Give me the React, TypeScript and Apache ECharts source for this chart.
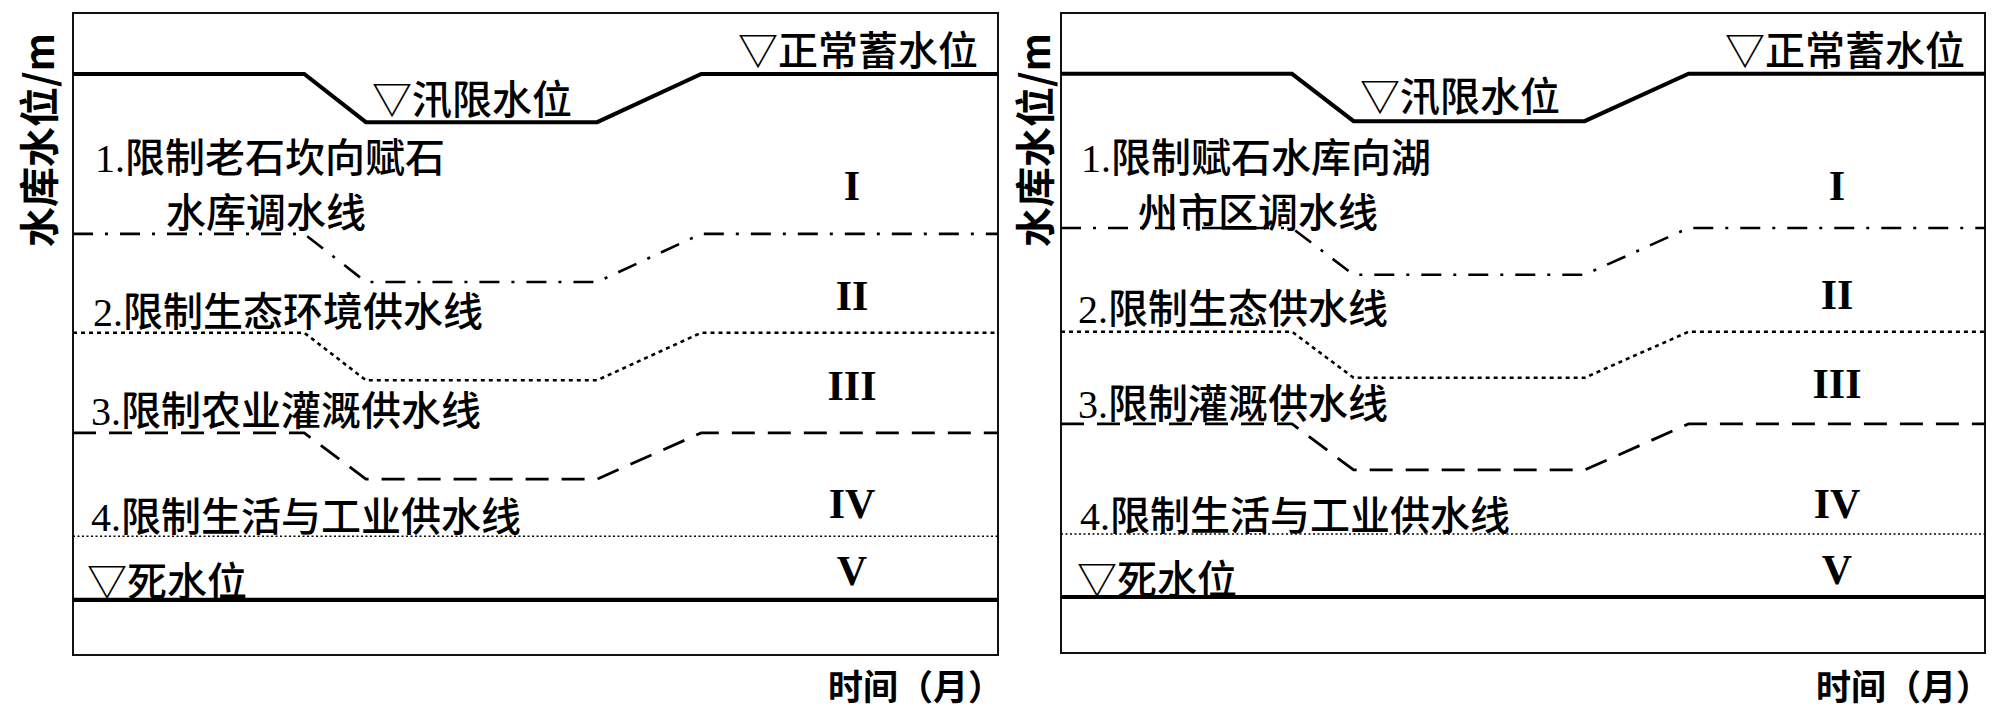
import React, { useEffect, useRef } from "react";
import * as echarts from "echarts";

// ---- data (schematic, abstract units) ----
const months = [0, 3, 3.8, 6.8, 8.15, 12];

const leftNormal = [90.5, 90.5, 83.0, 83.0, 90.5, 90.5];
const leftLine1 = [65.6, 65.6, 58.1, 58.1, 65.6, 65.6];
const leftLine2 = [50.2, 50.2, 42.8, 42.8, 50.2, 50.2];
const leftLine3 = [34.6, 34.6, 27.4, 27.4, 34.6, 34.6];
const leftLine4 = [18.5, 18.5, 18.5, 18.5, 18.5, 18.5];
const leftDead = [8.6, 8.6, 8.6, 8.6, 8.6, 8.6];

const rightNormal = [90.5, 90.5, 83.1, 83.1, 90.5, 90.5];
const rightLine1 = [66.4, 66.4, 59.1, 59.1, 66.4, 66.4];
const rightLine2 = [50.2, 50.2, 43.0, 43.0, 50.2, 50.2];
const rightLine3 = [35.8, 35.8, 28.6, 28.6, 35.8, 35.8];
const rightLine4 = [18.6, 18.6, 18.6, 18.6, 18.6, 18.6];
const rightDead = [8.75, 8.75, 8.75, 8.75, 8.75, 8.75];

const leftLabels = [
  "1.限制老石坎向赋石",
  "水库调水线",
  "2.限制生态环境供水线",
  "3.限制农业灌溉供水线",
  "4.限制生活与工业供水线",
];
const rightLabels = [
  "1.限制赋石水库向湖",
  "州市区调水线",
  "2.限制生态供水线",
  "3.限制灌溉供水线",
  "4.限制生活与工业供水线",
];
const normalLevelText = "▽正常蓄水位";
const floodLevelText = "▽汛限水位";
const deadLevelText = "▽死水位";
const zoneNames = ["I", "II", "III", "IV", "V"];
const yAxisName = "水库水位/m";
const xAxisName = "时间（月）";

// ---- styles ----
const CJK = "'Liberation Serif', 'Noto Sans CJK SC', serif";
const SANS = "'Noto Sans CJK SC', sans-serif";
const ROMAN = "'Liberation Serif', 'Times New Roman', serif";
const INK = "#000";

const pts = (ys: number[]) => months.map((m, i) => [m, ys[i]]);

const mkLine = (idx: number, ys: number[], width: number, type: any) => ({
  type: "line",
  xAxisIndex: idx,
  yAxisIndex: idx,
  data: pts(ys),
  symbol: "none",
  showSymbol: false,
  silent: true,
  lineStyle: { color: INK, width, type, cap: "butt", join: "miter" },
});

const panelSeries = (idx: number, s: number[][]) => [
  mkLine(idx, s[0], 4, "solid"),
  mkLine(idx, s[1], 2.6, [20, 12, 3, 12]),
  mkLine(idx, s[2], 2.6, [4, 4]),
  mkLine(idx, s[3], 2.8, [23, 13]),
  mkLine(idx, s[4], 1.6, [2, 2.5]),
  mkLine(idx, s[5], 4.2, "solid"),
];

const txt = (
  text: string,
  x: number,
  y: number,
  o: { size?: number; family?: string; weight?: any; align?: string; rotation?: number } = {}
) => ({
  type: "text",
  x,
  y,
  rotation: o.rotation || 0,
  silent: true,
  z: 100,
  style: {
    text,
    fill: INK,
    fontSize: o.size || 40,
    fontFamily: o.family || CJK,
    fontWeight: o.weight || 500,
    align: o.align || "left",
    verticalAlign: "middle",
  },
});

const panelTexts = (
  labels: string[],
  pos: number[][],
  romanX: number,
  romanY: number[],
  levelPos: number[][],
  yNameX: number,
  timeX: number
) => {
  const out: any[] = [];
  labels.forEach((l, i) => out.push(txt(l, pos[i][0], pos[i][1])));
  out.push(txt(normalLevelText, levelPos[0][0], levelPos[0][1]));
  out.push(txt(floodLevelText, levelPos[1][0], levelPos[1][1]));
  out.push(txt(deadLevelText, levelPos[2][0], levelPos[2][1]));
  zoneNames.forEach((z, i) =>
    out.push(txt(z, romanX, romanY[i], { size: 42, family: ROMAN, weight: "bold", align: "center" }))
  );
  out.push(txt(yAxisName, yNameX, 140, { size: 40, family: SANS, weight: "bold", align: "center", rotation: Math.PI / 2 }));
  out.push(txt(xAxisName, timeX, 684, { size: 35, family: SANS, weight: "bold" }));
  return out;
};

const option: any = {
  animation: false,
  backgroundColor: "#fff",
  grid: [
    { left: 73, top: 13, width: 925, height: 642, show: true, borderColor: "#111", borderWidth: 2, backgroundColor: "transparent" },
    { left: 1061, top: 13, width: 924, height: 640, show: true, borderColor: "#111", borderWidth: 2, backgroundColor: "transparent" },
  ],
  xAxis: [
    { gridIndex: 0, type: "value", min: 0, max: 12, show: false },
    { gridIndex: 1, type: "value", min: 0, max: 12, show: false },
  ],
  yAxis: [
    { gridIndex: 0, type: "value", min: 0, max: 100, show: false },
    { gridIndex: 1, type: "value", min: 0, max: 100, show: false },
  ],
  series: [
    ...panelSeries(0, [leftNormal, leftLine1, leftLine2, leftLine3, leftLine4, leftDead]),
    ...panelSeries(1, [rightNormal, rightLine1, rightLine2, rightLine3, rightLine4, rightDead]),
  ],
  graphic: [
    ...panelTexts(
      leftLabels,
      [[95, 158], [166, 213], [93, 312], [91, 411], [91, 517]],
      852,
      [186, 296, 386, 504, 571],
      [[738, 51], [372, 100], [87, 582]],
      37,
      828
    ),
    ...panelTexts(
      rightLabels,
      [[1081, 158], [1138, 213], [1078, 309], [1078, 404], [1080, 516]],
      1837,
      [186, 295, 384, 504, 570],
      [[1725, 51], [1360, 97], [1077, 580]],
      1033,
      1816
    ),
  ],
};

export default function App() {
  const ref = useRef<HTMLDivElement>(null);
  useEffect(() => {
    const chart = echarts.init(ref.current!, null, { renderer: "svg", width: 2000, height: 717 });
    chart.setOption(option);
    return () => chart.dispose();
  }, []);
  return (
    <div
      ref={ref}
      style={{ position: "fixed", left: 0, top: 0, width: 2000, height: 717, background: "#fff" }}
    />
  );
}
